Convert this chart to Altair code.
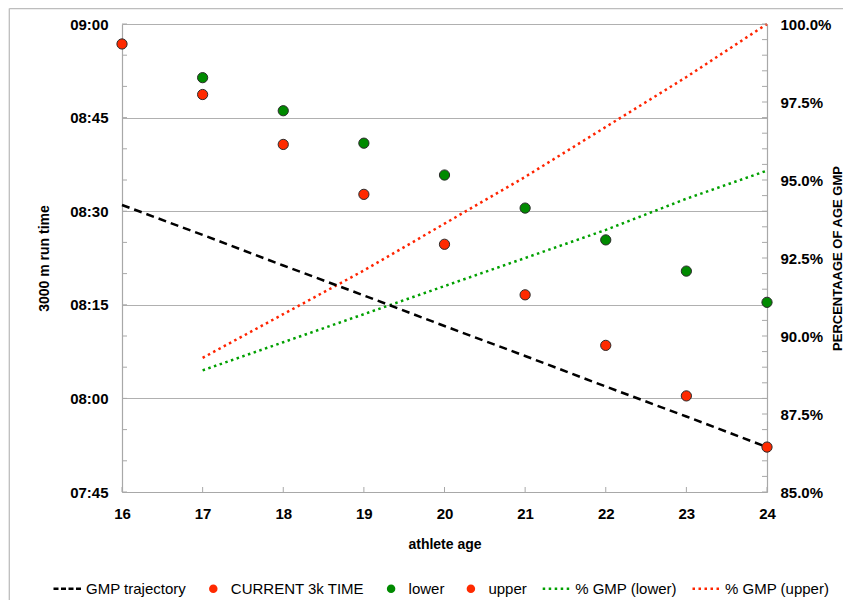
import altair as alt
import pandas as pd

# ---------------- data ----------------
series_names = ['GMP trajectory', 'CURRENT 3k TIME', 'lower', 'upper', '% GMP (lower)', '% GMP (upper)']
series_colors = ['#000000', '#ff2a00', '#008a00', '#ff2a00', '#00a000', '#ff2400']

current_age = [16]
current_time = [536.8]          # seconds (08:56.8)

band_ages = [17, 18, 19, 20, 21, 22, 23, 24]
lower_time = [531.4, 526.1, 520.9, 515.8, 510.5, 505.4, 500.4, 495.4]
upper_time = [528.7, 520.7, 512.7, 504.7, 496.6, 488.5, 480.4, 472.2]

gmp_ages = [16, 17, 18, 19, 20, 21, 22, 23, 24]
gmp_time = [511.0, 506.2, 501.3, 496.5, 491.6, 486.8, 481.9, 477.1, 472.2]

pct_lower = [88.9, 89.8, 90.7, 91.6, 92.5, 93.4, 94.4, 95.3]
pct_upper = [89.3, 90.7, 92.1, 93.6, 95.1, 96.7, 98.3, 100.0]

x_tick_values = [16, 17, 18, 19, 20, 21, 22, 23, 24]
left_major = [465, 480, 495, 510, 525, 540]
left_minor = [465, 470, 475, 480, 485, 490, 495, 500, 505, 510, 515, 520, 525, 530, 535, 540]
right_major = [85, 87.5, 90, 92.5, 95, 97.5, 100]
right_minor = [85 + 0.5 * i for i in range(31)]

# ---------------- tables ----------------
pts = pd.concat([
    pd.DataFrame({'age': current_age, 'time': current_time, 'series': 'CURRENT 3k TIME'}),
    pd.DataFrame({'age': band_ages, 'time': lower_time, 'series': 'lower'}),
    pd.DataFrame({'age': band_ages, 'time': upper_time, 'series': 'upper'}),
], ignore_index=True)
gmp_df = pd.DataFrame({'age': gmp_ages, 'time': gmp_time, 'series': 'GMP trajectory'})
pct_df = pd.concat([
    pd.DataFrame({'age': band_ages, 'pct': pct_lower, 'series': '% GMP (lower)'}),
    pd.DataFrame({'age': band_ages, 'pct': pct_upper, 'series': '% GMP (upper)'}),
], ignore_index=True)
xt_df = pd.DataFrame({'age': x_tick_values})
lt_df = pd.DataFrame({'time': left_minor})
rt_df = pd.DataFrame({'pct': right_minor})
one_df = pd.DataFrame({'a': [0]})

W, H = 645, 468
PAD = {'left': 114, 'top': 16, 'right': 76, 'bottom': 108}
FONT = 'Liberation Sans'
AXIS_GRAY = '#a8a8a8'

X = alt.X('age:Q', scale=alt.Scale(domain=[16, 24], nice=False, zero=False),
          axis=alt.Axis(values=x_tick_values, format='d', title='athlete age', grid=False,
                        ticks=False, labelPadding=14, titlePadding=16, labelFlush=False))

YL = alt.Y('time:Q', scale=alt.Scale(domain=[465, 540], nice=False, zero=False),
           axis=alt.Axis(orient='left', values=left_major, grid=True, gridColor='#b0b0b0',
                         ticks=False, labelPadding=14, title='3000 m run time', titlePadding=18,
                         labelFlush=False,
                         labelExpr="(floor(datum.value/60) < 10 ? '0' : '') + floor(datum.value/60) + ':' + (datum.value % 60 < 10 ? '0' : '') + (datum.value % 60)"))

YR = alt.Y('pct:Q', scale=alt.Scale(domain=[85, 100], nice=False, zero=False),
           axis=alt.Axis(orient='right', values=right_major, grid=False, ticks=False,
                         labelPadding=13, labelFlush=False, title='PERCENTAAGE OF AGE GMP',
                         titleAngle=270, titleBaseline='alphabetic', titleX=74, titleFontSize=13,
                         labelExpr="format(datum.value/100, '.1%')"))

is_line = "indexof(['GMP trajectory','% GMP (lower)','% GMP (upper)'], datum.value) >= 0"
circle_path = 'M0.2,0A0.2,0.2,0,1,1,-0.2,0A0.2,0.2,0,1,1,0.2,0Z'
legend = alt.Legend(
    title=None, orient='none', direction='horizontal', columns=6,
    legendX=-70, legendY=548, padding=0,
    labelFont=FONT, labelFontSize=15, labelColor='black', labelOffset=1,
    columnPadding=9.8, symbolSize=900, symbolStrokeWidth=2.5, symbolOpacity=1,
    symbolType=alt.ExprRef(expr=f"{is_line} ? 'stroke' : '{circle_path}'"),
    symbolDash=alt.ExprRef(expr=f"datum.value == 'GMP trajectory' ? [5, 2.5] : ({is_line} ? [2.5, 3.5] : [])"),
    symbolFillColor=alt.ExprRef(expr=f"{is_line} ? 'transparent' : scale('color', datum.value)"),
    symbolStrokeColor=alt.ExprRef(expr="scale('color', datum.value)"),
)

COLOR = alt.Color('series:N', scale=alt.Scale(domain=series_names, range=series_colors), legend=legend)

# ---------------- right-axis group ----------------
pct_lines = alt.Chart(pct_df).mark_line(strokeDash=[2.5, 3.5], strokeWidth=2.5).encode(
    x=X, y=YR, color=COLOR)
right_ticks = alt.Chart(rt_df).mark_rule(color=AXIS_GRAY, strokeWidth=1).encode(
    y=YR, x=alt.value(W), x2=alt.value(W - 5))
right_group = alt.layer(pct_lines, right_ticks)

# ---------------- left-axis group ----------------
frame_left = alt.Chart(one_df).mark_rule(color='#bdbdbd', strokeWidth=1.3).encode(
    x=alt.value(-112.7), y=alt.value(-15.4), y2=alt.value(H + PAD['bottom']))
frame_top = alt.Chart(one_df).mark_rule(color='#bdbdbd', strokeWidth=1.3).encode(
    x=alt.value(-112.7), x2=alt.value(W + PAD['right']), y=alt.value(-15.4))
x_ticks = alt.Chart(xt_df).mark_rule(color=AXIS_GRAY, strokeWidth=1).encode(
    x=X, y=alt.value(H), y2=alt.value(H - 5))
left_ticks = alt.Chart(lt_df).mark_rule(color=AXIS_GRAY, strokeWidth=1).encode(
    y=YL, x=alt.value(0), x2=alt.value(5))
gmp_line = alt.Chart(gmp_df).mark_line(strokeDash=[8, 5], strokeWidth=2.5).encode(
    x=X, y=YL, color=COLOR)
points = alt.Chart(pts).mark_circle(size=105, opacity=1, stroke='#2b2b2b', strokeWidth=1).encode(
    x=X, y=YL, color=COLOR)
left_group = alt.layer(frame_left, frame_top, x_ticks, left_ticks, gmp_line, points)

chart = alt.layer(right_group, left_group).resolve_scale(y='independent').properties(
    width=W, height=H,
    autosize=alt.AutoSizeParams(type='none'),
    padding=PAD,
).configure_view(stroke=None).configure_axis(
    labelFont=FONT, labelFontSize=15, labelFontWeight='bold', labelColor='black',
    titleFont=FONT, titleFontSize=14, titleFontWeight='bold', titleColor='black',
    domainColor=AXIS_GRAY, domainWidth=1.2,
)

chart.save('out.html', embed_options={'renderer': 'svg', 'actions': False})
